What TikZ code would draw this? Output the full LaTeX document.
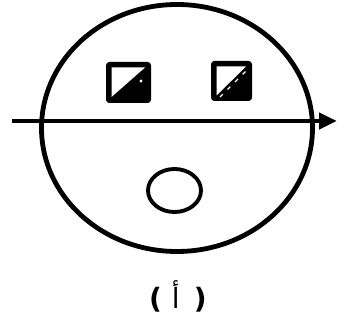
\documentclass[tikz,border=0pt]{standalone}
\usepackage{fontspec}
\newfontfamily\arabicfont[Script=Arabic]{DejaVu Sans}
\TeXXeTstate=1
\usetikzlibrary{arrows.meta}

\tikzset{
  rim/.style={line width=3.6pt},
  tile/.style={fill=black,rounded corners=2.5pt},
  halftone/.style={fill=white}
}

\begin{document}
\begin{tikzpicture}[x=0.75pt,y=-0.75pt,>={Triangle[length=13.5pt,width=12pt]}]
    \useasboundingbox (0,0) rectangle (347,320);
    % outer body and inner ring
    \draw[rim] (177,128) ellipse (135.5 and 123.5);
    \draw[line width=2.9pt] (174.5,190.5) ellipse (26.5 and 21.5);
    % left tile
    \fill[tile] (106,62) rectangle (151,103);
    \fill[halftone] (111.5,67.5) -- (145,67.5) -- (111.5,97) -- cycle;
    \fill[white] (141,81) circle (1.6);
    % right tile
    \fill[tile] (211,61) rectangle (252,101);
    \fill[halftone] (216.5,66.5) -- (246,66.5) -- (216.5,95.5) -- cycle;
    \draw[white,line width=1pt,dash pattern=on 3pt off 5pt] (220,97) -- (247,70);
    % axis through the body
    \coordinate (start) at (12,121);
    \coordinate (end) at (337,121);
    \draw[->,line width=3.6pt] (start) -- (end);
    \node (label) at (178,296) {\fontsize{21}{24}\selectfont\bfseries\arabicfont\beginR(\ \,{\mdseries أ}\ )\endR};
\end{tikzpicture}
\end{document}
